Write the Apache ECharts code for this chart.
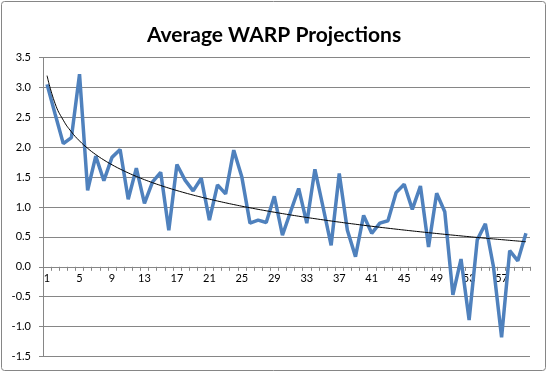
<!DOCTYPE html>
<html>
<head>
<meta charset="utf-8">
<script src="https://cdn.jsdelivr.net/npm/echarts@6/dist/echarts.min.js"></script>
<style>
html,body{margin:0;padding:0;background:#fff;}
#c{width:548px;height:373px;}
</style>
</head>
<body>
<div id="c"></div>
<script>
var titleText = 'Average WARP Projections';
var categories = [];
for (var k = 1; k <= 60; k++) categories.push(String(k));
var warp = [3.05, 2.55, 2.06, 2.16, 3.22, 1.28, 1.85, 1.44, 1.83, 1.96,
            1.13, 1.65, 1.06, 1.42, 1.58, 0.61, 1.71, 1.45, 1.27, 1.48,
            0.78, 1.37, 1.22, 1.95, 1.50, 0.73, 0.78, 0.74, 1.18, 0.53,
            0.92, 1.31, 0.73, 1.63, 1.00, 0.36, 1.56, 0.61, 0.17, 0.86,
            0.56, 0.73, 0.77, 1.24, 1.38, 0.96, 1.35, 0.33, 1.23, 0.92,
            -0.47, 0.13, -0.89, 0.45, 0.72, 0.00, -1.18, 0.27, 0.10, 0.56];
var yMin = -1.5, yMax = 3.5, yStep = 0.5;

// Logarithmic trendline (least squares fit of warp on ln(x)), like Excel's
function logFit(vals) {
  var n = vals.length, sx = 0, sy = 0, sxx = 0, sxy = 0;
  for (var i = 0; i < n; i++) {
    var lx = Math.log(i + 1);
    sx += lx; sy += vals[i]; sxx += lx * lx; sxy += lx * vals[i];
  }
  var a = (n * sxy - sx * sy) / (n * sxx - sx * sx);
  var b = (sy - a * sx) / n;
  return vals.map(function (v, i) { return +(a * Math.log(i + 1) + b).toFixed(4); });
}
var trend = logFit(warp);

var gridTop = 57.5, gridBottom = 16.5, H = 373;
var plotH = H - gridTop - gridBottom;
var zeroOffset = plotH * (0 - yMin) / (yMax - yMin);

var chart = echarts.init(document.getElementById('c'), null, {renderer: 'canvas'});
chart.setOption({
  animation: false,
  backgroundColor: '#fff',
  title: {
    text: titleText,
    left: 'center',
    top: 20,
    textStyle: {fontFamily: 'Lato', fontWeight: 'bold', fontSize: 21, color: '#000'}
  },
  graphic: [{
    type: 'rect',
    shape: {x: 1.5, y: 1.5, width: 544, height: 369, r: 3},
    style: {fill: 'none', stroke: '#868686', lineWidth: 1},
    silent: true
  }],
  grid: {left: 43, right: 18, top: gridTop, bottom: gridBottom, containLabel: false},
  xAxis: {
    type: 'category',
    data: categories,
    boundaryGap: true,
    position: 'bottom',
    offset: -zeroOffset,
    axisLine: {onZero: false, lineStyle: {color: '#868686', width: 1}},
    axisTick: {show: true, interval: 0, length: 4, inside: false, lineStyle: {color: '#868686'}},
    axisLabel: {interval: 3, fontFamily: 'Lato', fontSize: 11, color: '#000', margin: 6},
    splitLine: {show: false}
  },
  yAxis: {
    type: 'value',
    min: yMin, max: yMax, interval: yStep,
    axisLine: {show: true, lineStyle: {color: '#868686', width: 1}},
    axisTick: {show: true, length: 4, lineStyle: {color: '#868686'}},
    axisLabel: {fontFamily: 'Lato', fontSize: 11, color: '#000', margin: 12,
      formatter: function (v) { return v.toFixed(1); }},
    splitLine: {show: true, lineStyle: {color: '#868686', width: 1}}
  },
  series: [{
    type: 'line',
    data: warp,
    symbol: 'none',
    smooth: false,
    lineStyle: {color: '#4F81BD', width: 3.5},
    z: 2
  }, {
    type: 'line',
    data: trend,
    symbol: 'none',
    smooth: true,
    lineStyle: {color: '#000', width: 1},
    z: 3
  }]
});
</script>
</body>
</html>
